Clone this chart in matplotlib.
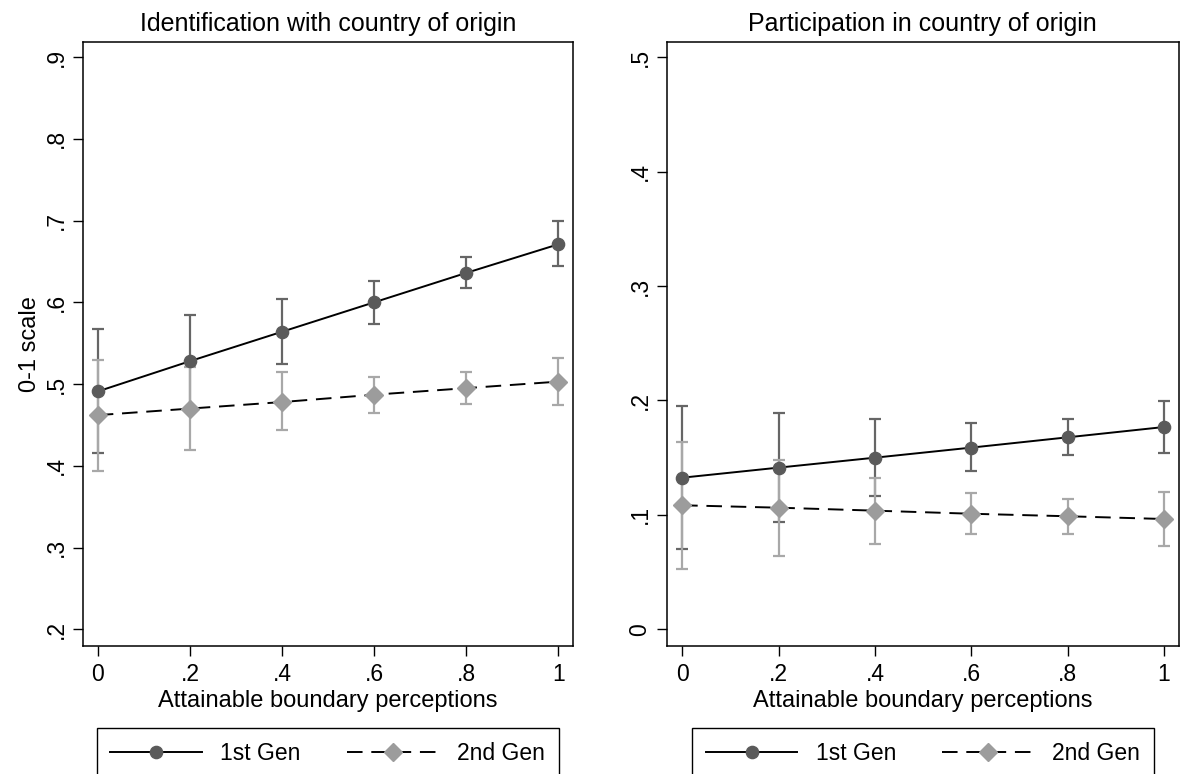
import numpy as np
import matplotlib
matplotlib.use("Agg")
import matplotlib.pyplot as plt
from matplotlib.lines import Line2D

plt.rcParams['font.family'] = ['Liberation Sans', 'DejaVu Sans']

# attainable boundary perceptions (x) and predicted values with 95% CIs
x = [0, 0.2, 0.4, 0.6, 0.8, 1.0]
xtick_labels = ['0', '.2', '.4', '.6', '.8', '1']

# identification with country of origin
ident_g1 = [0.491, 0.528, 0.564, 0.600, 0.636, 0.671]
ident_g1_lo = [0.416, 0.471, 0.524, 0.574, 0.617, 0.645]
ident_g1_hi = [0.567, 0.585, 0.604, 0.626, 0.655, 0.700]
ident_g2 = [0.462, 0.470, 0.478, 0.487, 0.495, 0.503]
ident_g2_lo = [0.394, 0.419, 0.444, 0.465, 0.476, 0.475]
ident_g2_hi = [0.530, 0.521, 0.515, 0.509, 0.515, 0.532]

# participation in country of origin
part_g1 = [0.1325, 0.1413, 0.150, 0.1588, 0.1678, 0.1768]
part_g1_lo = [0.070, 0.094, 0.1165, 0.138, 0.152, 0.154]
part_g1_hi = [0.195, 0.189, 0.184, 0.180, 0.184, 0.1998]
part_g2 = [0.1084, 0.1063, 0.1037, 0.101, 0.0988, 0.0964]
part_g2_lo = [0.053, 0.064, 0.0748, 0.083, 0.0836, 0.0728]
part_g2_hi = [0.164, 0.148, 0.1325, 0.1194, 0.114, 0.120]

series_labels = ['1st Gen', '2nd Gen']

c1_mark = '#5a5a5a'
c1_ci = '#666666'
c2_mark = '#9c9c9c'
c2_ci = '#a8a8a8'
dash = (0, (8, 4.5))


def fmt(v):
    s = '%g' % v
    if s.startswith('0.'):
        s = s[1:]
    return s


def panel(ax, g1, g1lo, g1hi, g2, g2lo, g2hi, title, yticks, ylim):
    g1, g1lo, g1hi = np.array(g1), np.array(g1lo), np.array(g1hi)
    g2, g2lo, g2hi = np.array(g2), np.array(g2lo), np.array(g2hi)
    ax.errorbar(x, g1, yerr=[g1 - g1lo, g1hi - g1], fmt='none', ecolor=c1_ci,
                elinewidth=1.6, capsize=4.4, capthick=1.6, zorder=2)
    ax.errorbar(x, g2, yerr=[g2 - g2lo, g2hi - g2], fmt='none', ecolor=c2_ci,
                elinewidth=1.6, capsize=4.4, capthick=1.6, zorder=2.1)
    ax.plot(x, g1, color='black', lw=1.4, marker='o', ms=8.8,
            mfc=c1_mark, mec=c1_mark, zorder=3)
    ax.plot(x, g2, color='black', lw=1.4, ls=dash, marker='D', ms=9.2,
            mfc=c2_mark, mec=c2_mark, zorder=3.1)

    ax.set_xlim(-0.032, 1.031)
    ax.set_ylim(*ylim)
    ax.set_xticks(x)
    ax.set_xticklabels(xtick_labels)
    ax.set_yticks(yticks)
    ax.set_yticklabels([fmt(v) for v in yticks], rotation=90, va='center')
    ax.tick_params(axis='both', direction='out', length=7, width=1,
                   labelsize=16.5, color='black')
    ax.tick_params(axis='x', pad=5.5)
    ax.tick_params(axis='y', pad=4)
    for s in ax.spines.values():
        s.set_linewidth(1.1)
        s.set_color('black')
    ax.set_title(title, fontsize=18, pad=8)
    ax.set_xlabel('Attainable boundary perceptions', fontsize=17, labelpad=2.5)


fig = plt.figure(figsize=(11.88, 7.74), dpi=100)
ax1 = fig.add_axes([0.0699, 0.1658, 0.4122, 0.7795])
ax2 = fig.add_axes([0.5612, 0.1658, 0.4312, 0.7795])

panel(ax1, ident_g1, ident_g1_lo, ident_g1_hi, ident_g2, ident_g2_lo, ident_g2_hi,
      'Identification with country of origin',
      [0.2, 0.3, 0.4, 0.5, 0.6, 0.7, 0.8, 0.9], (0.180, 0.918))
ax1.set_ylabel('0-1 scale', fontsize=17, labelpad=3)

panel(ax2, part_g1, part_g1_lo, part_g1_hi, part_g2, part_g2_lo, part_g2_hi,
      'Participation in country of origin',
      [0, 0.1, 0.2, 0.3, 0.4, 0.5], (-0.0143, 0.513))

handles = [
    Line2D([], [], color='black', lw=1.4, marker='o', ms=8.8, mfc=c1_mark, mec=c1_mark),
    Line2D([], [], color='black', lw=1.4, ls=dash, marker='D', ms=9.2, mfc=c2_mark, mec=c2_mark),
]

for x0 in (96.7 / 1188, 692 / 1188):
    fig.legend(handles, series_labels, ncol=2, loc='upper left', mode='expand',
               bbox_to_anchor=(x0, 1 - 728.3 / 774, 462 / 1188, 0),
               bbox_transform=fig.transFigure, fontsize=16.5, frameon=True,
               fancybox=False, edgecolor='black', framealpha=1,
               handlelength=4.0, handletextpad=0.8, borderpad=0.6,
               borderaxespad=0, numpoints=1).get_frame().set_linewidth(1.0)

fig.savefig('out.png', dpi=100)
